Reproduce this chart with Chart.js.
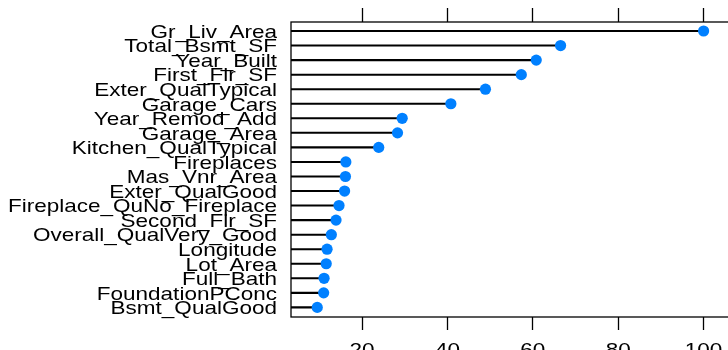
<!DOCTYPE html>
<html>
<head>
<meta charset="utf-8">
<script src="https://cdn.jsdelivr.net/npm/chart.js@4.4.1/dist/chart.umd.min.js"></script>
<style>
  html, body { margin: 0; padding: 0; background: #fff; overflow: hidden; }
  #wrap { width: 728px; height: 350px; overflow: hidden; }
</style>
</head>
<body>
<div id="wrap"><canvas id="imp" width="760" height="350"></canvas></div>
<script>
// variable importance
const categories = [
  "Gr_Liv_Area", "Total_Bsmt_SF", "Year_Built", "First_Flr_SF",
  "Exter_QualTypical", "Garage_Cars", "Year_Remod_Add", "Garage_Area",
  "Kitchen_QualTypical", "Fireplaces", "Mas_Vnr_Area", "Exter_QualGood",
  "Fireplace_QuNo_Fireplace", "Second_Flr_SF", "Overall_QualVery_Good",
  "Longitude", "Lot_Area", "Full_Bath", "FoundationPConc", "Bsmt_QualGood"
];
const importance = [
  100, 66.5, 60.8, 57.3, 48.9, 40.8, 29.4, 28.3, 23.9, 16.2,
  16.1, 15.9, 14.6, 13.9, 12.8, 11.8, 11.6, 11.1, 11.0, 9.5
];
const xTicks = [20, 40, 60, 80, 100];

const xMin = 3.35;
const xMax = 111.9;
const labelFont = '19px "Liberation Sans", Arial, sans-serif';
const stretch = 1.185; // text in the picture is drawn wider than tall

const rows = importance.map((v, i) => ({ x: v, y: i }));

// box, row labels and bottom tick labels
const framePlugin = {
  id: "frame",
  afterDraw(chart) {
    const ctx = chart.ctx;
    const area = chart.chartArea;
    const xs = chart.scales.x;
    const ys = chart.scales.y;
    ctx.save();
    ctx.strokeStyle = "#000";
    ctx.lineWidth = 1.3;
    ctx.strokeRect(area.left, area.top, area.right - area.left, area.bottom - area.top);

    ctx.fillStyle = "#000";
    ctx.font = labelFont;
    ctx.textBaseline = "alphabetic";
    categories.forEach((name, i) => {
      const y = ys.getPixelForValue(i) + 6.8;
      const w = ctx.measureText(name).width * stretch;
      ctx.save();
      ctx.translate(area.left - 14 - w, y);
      ctx.scale(stretch, 1);
      ctx.fillText(name, 0, 0);
      ctx.restore();
    });

    xTicks.forEach((t) => {
      const s = String(t);
      const w = ctx.measureText(s).width * stretch;
      ctx.save();
      ctx.translate(xs.getPixelForValue(t) - w / 2, area.bottom + 38.5);
      ctx.scale(stretch, 1);
      ctx.fillText(s, 0, 0);
      ctx.restore();
    });
    ctx.restore();
  }
};

function setTicks(scale) {
  scale.ticks = xTicks.map((v) => ({ value: v }));
}

const axisCommon = {
  type: "linear",
  min: xMin,
  max: xMax,
  offset: false,
  afterBuildTicks: setTicks,
  border: { display: false },
  grid: {
    drawOnChartArea: false,
    drawTicks: true,
    tickLength: 13,
    tickWidth: 1.3,
    tickColor: "#000"
  },
  ticks: { display: false }
};

new Chart(document.getElementById("imp"), {
  type: "bar",
  data: {
    datasets: [
      {
        type: "bar",
        data: rows,
        backgroundColor: "#000",
        borderWidth: 0,
        barThickness: 1.4,
        order: 2,
        xAxisID: "x",
        yAxisID: "y"
      },
      {
        type: "scatter",
        data: rows,
        backgroundColor: "#0080ff",
        borderColor: "#0080ff",
        borderWidth: 0,
        pointRadius: 5.6,
        order: 1,
        xAxisID: "x",
        yAxisID: "y"
      }
    ]
  },
  options: {
    indexAxis: "y",
    responsive: false,
    animation: false,
    devicePixelRatio: 1,
    layout: { padding: { left: 291, top: 8, bottom: 20, right: 0 } },
    scales: {
      x: Object.assign({ position: "bottom" }, axisCommon),
      x2: Object.assign({ position: "top" }, axisCommon, {
        grid: Object.assign({}, axisCommon.grid, { tickLength: 14 })
      }),
      y: {
        type: "linear",
        reverse: true,
        offset: false,
        min: -0.62,
        max: 19.66,
        display: false
      }
    },
    plugins: {
      legend: { display: false },
      tooltip: { enabled: false }
    }
  },
  plugins: [framePlugin]
});
</script>
</body>
</html>
